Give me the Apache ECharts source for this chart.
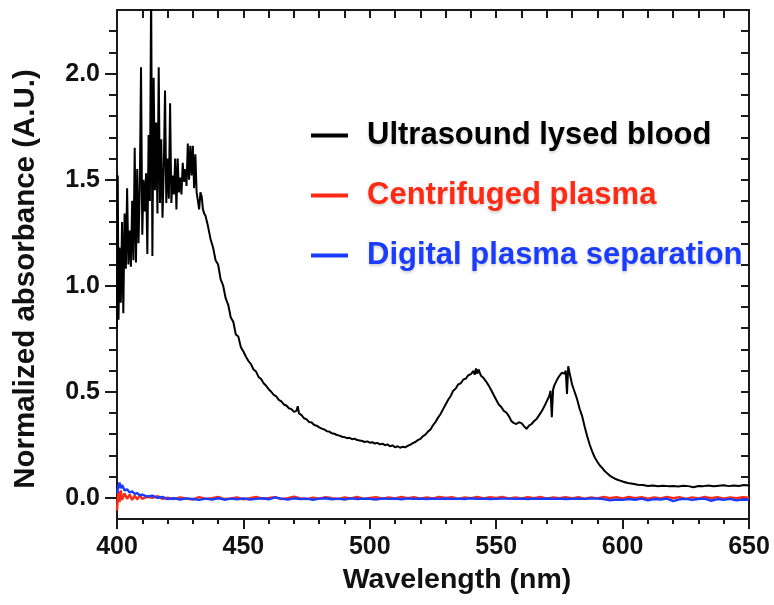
<!DOCTYPE html>
<html>
<head>
<meta charset="utf-8">
<script src="https://cdn.jsdelivr.net/npm/echarts@6/dist/echarts.min.js"></script>
<style>html,body{margin:0;padding:0;background:#fff}#c{width:774px;height:605px}</style>
</head>
<body>
<div id="c"></div>
<script>
// ---- Data ----
const seriesNames = ['Ultrasound lysed blood', 'Centrifuged plasma', 'Digital plasma separation'];
const xTickLabels = [400, 450, 500, 550, 600, 650];
const yTickLabels = [0.0, 0.5, 1.0, 1.5, 2.0];
const yMinorTicks = [0.1,0.2,0.3,0.4,0.6,0.7,0.8,0.9,1.1,1.2,1.3,1.4,1.6,1.7,1.8,1.9,2.1,2.2];
const yAllTicks = [0,0.1,0.2,0.3,0.4,0.5,0.6,0.7,0.8,0.9,1.0,1.1,1.2,1.3,1.4,1.5,1.6,1.7,1.8,1.9,2.0,2.1,2.2];

// [wavelength nm, normalized absorbance]
const ultrasoundLysed = [
 [400.0,0.80],[400.3,1.52],[400.6,0.84],[401.0,1.18],[401.5,0.92],[402.0,1.30],[402.5,0.87],[403.0,1.34],
 [403.5,1.08],[404.0,1.46],[404.5,1.10],[405.0,1.26],[405.5,1.09],[406.0,1.40],[406.5,1.12],[407.0,1.65],
 [407.5,1.11],[408.0,1.55],[408.5,1.20],[409.0,1.45],[409.5,2.03],[410.0,1.24],[410.5,1.50],[411.0,1.35],
 [411.5,1.53],[412.0,1.15],[412.5,1.71],[413.0,1.40],[413.5,2.40],[414.0,1.14],[414.5,1.98],[415.0,1.45],
 [415.5,1.77],[416.0,1.34],[416.5,2.03],[417.0,1.39],[417.5,1.69],[418.0,1.32],[418.5,1.55],[419.0,1.92],
 [419.5,1.39],[420.0,1.60],[420.5,1.41],[421.0,1.86],[421.5,1.39],[422.0,1.52],[422.5,1.43],[423.0,1.60],
 [423.5,1.36],[424.0,1.60],[424.5,1.44],[425.0,1.51],[425.5,1.43],[426.0,1.58],[426.5,1.49],[427.0,1.55],
 [427.5,1.47],[428.0,1.67],[428.5,1.50],[429.0,1.66],[429.5,1.52],[430.0,1.66],[430.5,1.46],[431.0,1.62],
 [431.5,1.44],[432.0,1.40],[432.5,1.36],[433.0,1.44],[433.5,1.42],[434.0,1.36],[434.5,1.34],[435.0,1.33],
 [436,1.28],[437,1.22],[438,1.18],[439,1.12],[440,1.10],[441,1.03],[442,1.00],[443,0.94],[444,0.91],
 [445,0.85],[446,0.83],[447,0.77],[448,0.76],[449,0.71],[450,0.69],[451,0.665],[452,0.645],[453,0.63],
 [454,0.605],[455,0.595],[456,0.57],[457,0.56],[458,0.54],[459,0.528],[460,0.512],[461,0.50],[462,0.485],
 [463,0.478],[464,0.462],[465,0.455],[466,0.44],[467,0.435],[468,0.422],[469,0.418],[470,0.405],[471,0.41],
 [471.5,0.432],[472,0.398],[473,0.39],[474,0.375],[475,0.37],[476,0.357],[477,0.355],[478,0.343],[479,0.34],
 [480,0.332],[481,0.326],[482,0.322],[483,0.314],[484,0.312],[485,0.304],[486,0.302],[487,0.296],[488,0.293],
 [489,0.288],[490,0.286],[491,0.281],[492,0.283],[493,0.276],[494,0.279],[495,0.272],[496,0.27],[497,0.268],
 [498,0.263],[499,0.266],[500,0.26],[501,0.262],[502,0.256],[503,0.259],[504,0.252],[505,0.255],[506,0.248],
 [507,0.252],[508,0.243],[509,0.247],[510,0.238],[511,0.243],[512,0.236],[513,0.241],[514,0.238],[515,0.245],
 [516,0.25],[517,0.258],[518,0.263],[519,0.272],[520,0.278],[521,0.29],[522,0.298],[523,0.312],[524,0.322],
 [525,0.342],[526,0.358],[527,0.378],[528,0.395],[529,0.418],[530,0.44],[531,0.462],[532,0.48],[533,0.505],
 [534,0.515],[535,0.535],[536,0.54],[537,0.558],[538,0.562],[539,0.578],[540,0.583],[541,0.598],[541.5,0.58],
 [542,0.61],[542.5,0.585],[543,0.605],[544,0.575],[545,0.565],[546,0.548],[547,0.53],[548,0.508],[549,0.485],
 [550,0.462],[551,0.44],[552,0.428],[553,0.41],[554,0.402],[555,0.385],[556,0.362],[557,0.352],[558,0.348],
 [559,0.356],[560,0.352],[561,0.338],[562,0.325],[563,0.34],[564,0.348],[565,0.362],[566,0.372],[567,0.39],
 [568,0.408],[569,0.43],[570,0.455],[571,0.48],[571.5,0.505],[572,0.38],[572.5,0.51],[573,0.53],[574,0.555],
 [575,0.575],[576,0.59],[577,0.585],[577.5,0.60],[578,0.49],[578.5,0.62],[579,0.59],[580,0.535],[581,0.50],
 [582,0.465],[583,0.42],[584,0.385],[585,0.335],[586,0.29],[587,0.25],[588,0.218],[589,0.19],[590,0.17],
 [591,0.152],[592,0.14],[593,0.125],[594,0.115],[595,0.104],[596,0.096],[597,0.09],[598,0.085],[599,0.081],
 [600,0.077],[602,0.07],[604,0.066],[606,0.062],[608,0.06],[610,0.056],[612,0.058],[614,0.054],[616,0.057],
 [618,0.055],[620,0.056],[622,0.053],[624,0.057],[626,0.055],[628,0.05],[630,0.056],[632,0.055],[634,0.058],
 [636,0.054],[638,0.057],[640,0.059],[642,0.055],[644,0.058],[646,0.056],[648,0.06],[650,0.058]
];

const centrifugedPlasma = [
 [400,-0.06],[400.5,0.03],[401,-0.02],[401.5,0.035],[402,-0.01],[403,0.02],[404,-0.005],[405,0.015],[406,-0.01],
 [407,0.01],[408,-0.008],[409,0.012],[410,-0.005],[412,0.005],[414,0.0],[416,0.008],[418,-0.005],[420,0.0],
 [422.5,-0.006],[425,0.002],[427.5,-0.004],[430,-0.008],[432.5,0.003],[435,-0.005],[437.5,-0.002],[440,0.004],
 [442.5,-0.006],[445,-0.003],[447.5,0.002],[450,-0.007],[452.5,-0.002],[455,0.004],[457.5,-0.004],[460,-0.001],
 [462.5,0.003],[465,-0.006],[467.5,-0.002],[470,0.005],[472.5,-0.003],[475,-0.006],[477.5,0.001],[480,-0.004],
 [482.5,0.003],[485,-0.002],[487.5,-0.006],[490,0.002],[492.5,-0.003],[495,0.004],[497.5,-0.005],[500,-0.001],
 [502.5,0.003],[505,-0.004],[507.5,0.002],[510,-0.003],[512.5,0.004],[515,-0.002],[517.5,0.003],[520,-0.004],
 [522.5,0.002],[525,-0.003],[527.5,0.004],[530,-0.001],[532.5,0.003],[535,-0.005],[537.5,0.002],[540,-0.002],
 [542.5,0.004],[545,-0.003],[547.5,0.003],[550,-0.001],[552.5,0.004],[555,-0.004],[557.5,0.002],[560,-0.003],
 [562.5,0.003],[565,-0.002],[567.5,0.004],[570,-0.004],[572.5,0.002],[575,-0.002],[577.5,0.003],[580,-0.003],
 [582.5,0.003],[585,-0.004],[587.5,0.002],[590,-0.003],[592.5,0.004],[595,-0.002],[597.5,0.003],[600,-0.003],
 [602.5,0.004],[605,-0.002],[607.5,0.003],[610,-0.004],[612.5,0.002],[615,-0.003],[617.5,0.004],[620,-0.002],
 [622.5,0.003],[625,-0.005],[627.5,0.002],[630,-0.003],[632.5,0.004],[635,-0.002],[637.5,0.003],[640,-0.004],
 [642.5,0.002],[645,-0.002],[647.5,0.003],[650,0.0]
];

const digitalPlasma = [
 [400,0.02],[400.5,0.05],[401,0.072],[401.5,0.045],[402,0.06],[403,0.035],[404,0.04],[405,0.025],[406,0.03],
 [407,0.018],[408,0.022],[409,0.012],[410,0.015],[412,0.006],[414,0.01],[416,0.0],[418,0.004],[420,-0.006],
 [422.5,-0.002],[425,-0.008],[427.5,-0.003],[430,-0.006],[432.5,-0.010],[435,-0.004],[437.5,-0.008],[440,-0.002],
 [442.5,-0.009],[445,-0.004],[447.5,-0.007],[450,-0.003],[452.5,-0.008],[455,-0.005],[457.5,-0.002],[460,-0.007],
 [462.5,0.002],[465,-0.004],[467.5,-0.008],[470,-0.003],[472.5,-0.006],[475,-0.004],[477.5,-0.009],[480,-0.004],
 [482.5,-0.002],[485,-0.007],[487.5,-0.004],[490,-0.008],[492.5,-0.003],[495,-0.006],[497.5,-0.004],[500,-0.005],
 [502.5,-0.008],[505,-0.003],[507.5,-0.005],[510,-0.004],[512.5,-0.007],[515,-0.003],[517.5,-0.005],[520,-0.004],
 [522.5,-0.006],[525,-0.004],[527.5,-0.005],[530,-0.003],[532.5,-0.005],[535,-0.004],[537.5,-0.006],[540,-0.003],
 [542.5,-0.005],[545,-0.004],[547.5,-0.006],[550,-0.005],[552.5,-0.004],[555,-0.004],[557.5,-0.005],[560,-0.004],
 [562.5,-0.006],[565,-0.004],[567.5,-0.005],[570,-0.003],[572.5,-0.005],[575,-0.004],[577.5,-0.006],[580,-0.005],
 [582.5,-0.004],[585,-0.005],[587.5,-0.003],[590,-0.004],[592.5,-0.006],[595,-0.012],[597.5,-0.008],[600,-0.010],
 [602.5,-0.006],[605,-0.009],[607.5,-0.004],[610,-0.012],[612.5,-0.006],[615,-0.008],[617.5,-0.004],[620,-0.016],
 [622.5,-0.007],[625,-0.005],[627.5,-0.010],[630,-0.006],[632.5,-0.004],[635,-0.014],[637.5,-0.006],[640,-0.010],
 [642.5,-0.005],[645,-0.012],[647.5,-0.008],[650,-0.010]
];

// ---- Chart ----
const FONT = '"Liberation Sans", Arial, Helvetica, sans-serif';
const AX = '#1a1a1a';
const chart = echarts.init(document.getElementById('c'), null, {renderer: 'canvas'});
const lineColors = ['#000000', '#ff2a14', '#1a3cff'];
const legendTextColors = ['#000000', '#ff2a14', '#1a3cff'];

chart.setOption({
  animation: false,
  backgroundColor: '#ffffff',
  grid: {left: 117, right: 25, top: 10, bottom: 86, containLabel: false},
  xAxis: [
    {
      type: 'value', position: 'bottom', min: 400, max: 650, interval: 50,
      axisLine: {show: true, onZero: false, lineStyle: {color: AX, width: 2}},
      axisTick: {show: true, inside: false, length: 10, lineStyle: {color: AX, width: 2}},
      minorTick: {show: true, splitNumber: 5, length: 5, lineStyle: {color: AX, width: 2}},
      splitLine: {show: false},
      axisLabel: {show: true, margin: 16, fontSize: 25, fontWeight: 'bold', color: '#111', fontFamily: FONT,
        customValues: xTickLabels, formatter: v => String(v)}
    },
    {
      type: 'value', position: 'top', min: 400, max: 650, interval: 10,
      axisLine: {show: true, onZero: false, lineStyle: {color: AX, width: 2}},
      axisTick: {show: true, inside: true, length: 8, lineStyle: {color: AX, width: 2}},
      axisLabel: {show: false}, splitLine: {show: false}
    }
  ],
  yAxis: [
    {
      type: 'value', position: 'left', min: -0.1, max: 2.3,
      axisLine: {show: true, onZero: false, lineStyle: {color: AX, width: 2}},
      axisTick: {show: true, inside: false, length: 12, customValues: yTickLabels, lineStyle: {color: AX, width: 2}},
      axisLabel: {show: true, margin: 17, fontSize: 25, fontWeight: 'bold', color: '#111', fontFamily: FONT,
        customValues: yTickLabels, formatter: v => Number(v).toFixed(1)},
      splitLine: {show: false}
    },
    {
      type: 'value', position: 'left', min: -0.1, max: 2.3,
      axisLine: {show: false, onZero: false},
      axisTick: {show: true, inside: false, length: 8, customValues: yMinorTicks, lineStyle: {color: AX, width: 2}},
      axisLabel: {show: false}, splitLine: {show: false}
    },
    {
      type: 'value', position: 'right', min: -0.1, max: 2.3,
      axisLine: {show: true, onZero: false, lineStyle: {color: AX, width: 2}},
      axisTick: {show: true, inside: true, length: 8, customValues: yAllTicks, lineStyle: {color: AX, width: 2}},
      axisLabel: {show: false}, splitLine: {show: false}
    }
  ],
  legend: {
    show: true, orient: 'vertical', left: 306, top: 114,
    itemWidth: 37, itemHeight: 4, itemGap: 27, icon: 'rect',
    textStyle: {fontSize: 31, lineHeight: 33, fontWeight: 'bold', fontFamily: FONT, padding: [0, 0, 0, 14],
      textShadowColor: 'rgba(0,0,0,0.18)', textShadowBlur: 3, textShadowOffsetY: 2},
    data: seriesNames.map((n, i) => ({name: n, itemStyle: {color: lineColors[i]}, textStyle: {color: legendTextColors[i]}}))
  },
  graphic: [
    {type: 'text', x: 26, y: 279, rotation: Math.PI / 2,
      style: {text: 'Normalized absorbance (A.U.)', fontSize: 29.5, fontWeight: 'bold', fontFamily: FONT,
        fill: '#111', align: 'center', verticalAlign: 'middle'}},
    {type: 'text', x: 457, y: 580,
      style: {text: 'Wavelength (nm)', fontSize: 28.5, fontWeight: 'bold', fontFamily: FONT,
        fill: '#111', align: 'center', verticalAlign: 'middle'}}
  ],
  series: [
    {name: seriesNames[0], type: 'line', xAxisIndex: 0, yAxisIndex: 0, data: ultrasoundLysed,
      symbol: 'none', clip: true, lineStyle: {color: lineColors[0], width: 2}, itemStyle: {color: lineColors[0]}},
    {name: seriesNames[1], type: 'line', xAxisIndex: 0, yAxisIndex: 0, data: centrifugedPlasma,
      symbol: 'none', clip: true, lineStyle: {color: lineColors[1], width: 2.4}, itemStyle: {color: lineColors[1]}},
    {name: seriesNames[2], type: 'line', xAxisIndex: 0, yAxisIndex: 0, data: digitalPlasma,
      symbol: 'none', clip: true, lineStyle: {color: lineColors[2], width: 2.4}, itemStyle: {color: lineColors[2]}}
  ]
});
</script>
</body>
</html>
